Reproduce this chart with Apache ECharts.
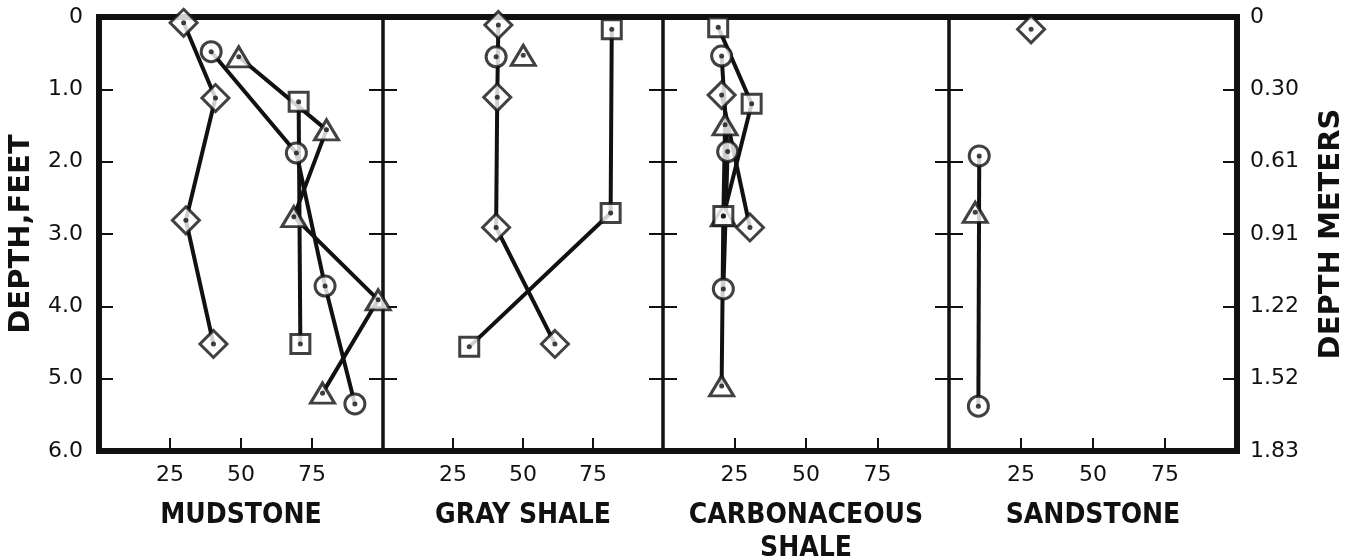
<!DOCTYPE html>
<html>
<head>
<meta charset="utf-8">
<title>Depth profiles by lithology</title>
<script src="https://cdn.jsdelivr.net/npm/echarts@6/dist/echarts.min.js"></script>
<style>
  html, body { margin: 0; padding: 0; background: #fff; }
  #chart { width: 1356px; height: 560px; }
</style>
</head>
<body>
<div id="chart"></div>
<script>
// ---- data: [percent, depth in feet] ----
const lithologies = ['MUDSTONE', 'GRAY SHALE', 'CARBONACEOUS\nSHALE', 'SANDSTONE'];
const depthFeetLabels = ['0', '1.0', '2.0', '3.0', '4.0', '5.0', '6.0'];
const depthMeterLabels = ['0', '0.30', '0.61', '0.91', '1.22', '1.52', '1.83'];
const percentTickLabels = ['25', '50', '75'];

const mudstoneDiamond  = [[29.8, 0.08], [41.0, 1.12], [30.6, 2.81], [40.3, 4.52]];
const mudstoneCircle   = [[39.5, 0.48], [69.5, 1.88], [79.6, 3.72], [90.1, 5.35]];
const mudstoneTriangle = [[49.2, 0.55], [80.1, 1.56], [68.6, 2.76], [98.3, 3.91], [78.7, 5.20]];
const mudstoneSquare   = [[70.3, 1.17], [70.9, 4.52]];

const grayShaleDiamond  = [[41.2, 0.11], [40.8, 1.11], [40.4, 2.91], [61.4, 4.52]];
const grayShaleCircle   = [[40.4, 0.55]];
const grayShaleTriangle = [[50.1, 0.53]];
const grayShaleSquare   = [[81.7, 0.17], [81.3, 2.71], [30.8, 4.56]];

const carbShaleDiamond  = [[20.5, 1.08], [30.4, 2.91]];
const carbShaleCircle   = [[20.5, 0.54], [22.6, 1.86], [21.1, 3.76]];
const carbShaleTriangle = [[21.7, 1.49], [21.1, 2.75], [20.5, 5.10]];
const carbShaleSquare   = [[19.3, 0.14], [31.0, 1.20], [21.1, 2.75]];

const sandstoneDiamond  = [[28.5, 0.17]];
const sandstoneCircle   = [[10.5, 1.92], [10.2, 5.38]];
const sandstoneTriangle = [[9.1, 2.70]];
const sandstoneSquare   = [];

// ---- layout ----
const panelEdges = [99, 383, 663, 949, 1237];
const plotTop = 17;
const plotHeight = 434;
const ink = '#111';
const labelFont = "'DejaVu Sans', sans-serif";
const titleFont = "'DejaVu Sans Condensed', 'Liberation Sans Narrow', 'DejaVu Sans', sans-serif";

const markerStyles = {
  diamond:  { symbol: 'diamond',  size: 27 },
  circle:   { symbol: 'circle',   size: 20 },
  triangle: { symbol: 'triangle', size: [24, 20] },
  square:   { symbol: 'rect',     size: 19 }
};

const panels = [
  { diamond: mudstoneDiamond,  circle: mudstoneCircle,  triangle: mudstoneTriangle,  square: mudstoneSquare },
  { diamond: grayShaleDiamond, circle: grayShaleCircle, triangle: grayShaleTriangle, square: grayShaleSquare },
  { diamond: carbShaleDiamond, circle: carbShaleCircle, triangle: carbShaleTriangle, square: carbShaleSquare },
  { diamond: sandstoneDiamond, circle: sandstoneCircle, triangle: sandstoneTriangle, square: sandstoneSquare }
];

const grids = [];
const xAxes = [];
const yAxes = [];
const series = [];

panels.forEach((sets, i) => {
  grids.push({
    left: panelEdges[i], top: plotTop,
    width: panelEdges[i + 1] - panelEdges[i], height: plotHeight,
    outerBoundsMode: 'none', containLabel: false,
    show: true, borderColor: ink, borderWidth: 3, backgroundColor: 'transparent'
  });

  xAxes.push({
    type: 'value', gridIndex: i, min: 0, max: 100, interval: 25,
    position: 'bottom',
    axisLine: { show: false, onZero: false },
    splitLine: { show: false },
    axisTick: { show: true, inside: true, length: 13, lineStyle: { color: ink, width: 2 } },
    axisLabel: {
      margin: 13, color: ink, fontFamily: labelFont, fontSize: 22,
      formatter: v => (v > 0 && v < 100) ? percentTickLabels[v / 25 - 1] : ''
    },
    name: lithologies[i],
    nameLocation: 'middle',
    nameGap: 48,
    nameTextStyle: {
      color: ink, fontFamily: titleFont, fontWeight: 'bold', fontSize: 28,
      lineHeight: 33, verticalAlign: 'top'
    }
  });

  const isFirst = i === 0;
  const isLast = i === panels.length - 1;

  // left depth axis of this panel
  yAxes.push({
    type: 'value', gridIndex: i, min: 0, max: 6, interval: 1, inverse: true,
    position: 'left',
    axisLine: { show: false, onZero: false },
    splitLine: { show: false },
    axisTick: { show: true, inside: true, length: 14, lineStyle: { color: ink, width: 2 } },
    axisLabel: {
      show: isFirst, margin: 16, color: ink, fontFamily: labelFont, fontSize: 22,
      formatter: v => depthFeetLabels[Math.round(v)]
    },
    name: isFirst ? 'DEPTH,FEET' : '',
    nameLocation: 'middle',
    nameGap: 63,
    nameRotate: 90,
    nameTextStyle: { color: ink, fontFamily: labelFont, fontWeight: 'bold', fontSize: 29 }
  });

  // right depth axis of this panel
  yAxes.push({
    type: 'value', gridIndex: i, min: 0, max: 6, interval: 1, inverse: true,
    position: 'right',
    axisLine: { show: false, onZero: false },
    splitLine: { show: false },
    axisTick: { show: true, inside: true, length: 14, lineStyle: { color: ink, width: 2 } },
    axisLabel: {
      show: isLast, margin: 13, color: ink, fontFamily: labelFont, fontSize: 22,
      formatter: v => depthMeterLabels[Math.round(v)]
    },
    name: isLast ? 'DEPTH METERS' : '',
    nameLocation: 'middle',
    nameGap: 80,
    nameRotate: 90,
    nameTextStyle: { color: ink, fontFamily: labelFont, fontWeight: 'bold', fontSize: 29 }
  });

  Object.keys(markerStyles).forEach(key => {
    const data = sets[key];
    if (!data.length) return;
    const m = markerStyles[key];
    series.push({
      type: 'line', xAxisIndex: i, yAxisIndex: 2 * i, data: data,
      symbol: 'none', clip: false, silent: true, z: 2,
      lineStyle: { color: ink, width: 4 }
    });
    series.push({
      type: 'scatter', xAxisIndex: i, yAxisIndex: 2 * i, data: data,
      symbol: m.symbol, symbolSize: m.size, clip: false, silent: true, z: 3,
      itemStyle: { color: '#fff', borderColor: ink, borderWidth: 3 }
    });
    series.push({
      type: 'scatter', xAxisIndex: i, yAxisIndex: 2 * i, data: data,
      symbol: 'circle', symbolSize: 5, clip: false, silent: true, z: 4,
      itemStyle: { color: ink }
    });
  });
});

// heavy outer frame around all four panels
grids.push({
  left: panelEdges[0], top: plotTop,
  width: panelEdges[panelEdges.length - 1] - panelEdges[0], height: plotHeight,
  outerBoundsMode: 'none', containLabel: false,
  show: true, borderColor: ink, borderWidth: 6, backgroundColor: 'transparent'
});
xAxes.push({ type: 'value', gridIndex: 4, show: false, min: 0, max: 1 });
yAxes.push({ type: 'value', gridIndex: 4, show: false, min: 0, max: 1 });

const chart = echarts.init(document.getElementById('chart'), null, { renderer: 'canvas' });
chart.setOption({
  animation: false,
  backgroundColor: '#fff',
  grid: grids,
  xAxis: xAxes,
  yAxis: yAxes,
  series: series
});
</script>
</body>
</html>
